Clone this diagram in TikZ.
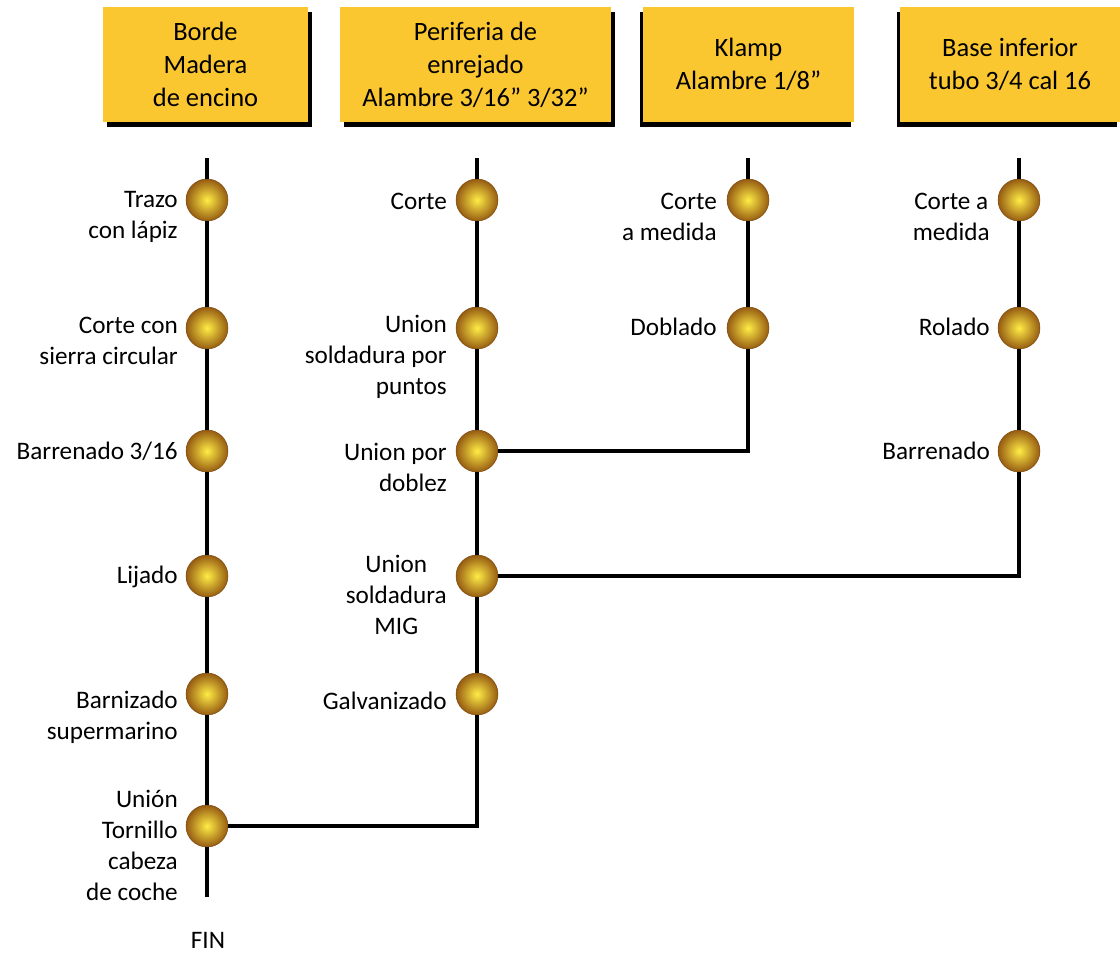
\documentclass[tikz,border=0pt]{standalone}
\usepackage{fontspec}
\setmainfont{Carlito}
\usepackage{tikz}
\usetikzlibrary{shadows}

\definecolor{boxgold}{RGB}{251,199,48}
\definecolor{ballin}{RGB}{255,236,70}
\definecolor{ballout}{RGB}{150,92,18}
\definecolor{ballrim}{RGB}{120,70,10}

\begin{document}
\begin{tikzpicture}[x=0.03cm, y=-0.03cm,
  head/.style={fill=boxgold, minimum height=3.45cm, inner sep=0pt, align=center, font=\fontsize{22.6}{28.2}\selectfont},
  shadowr/.style={drop shadow={shadow xshift=0.12cm, shadow yshift=-0.15cm, fill=black, opacity=1}},
  shadowl/.style={drop shadow={shadow xshift=-0.09cm, shadow yshift=-0.15cm, fill=black, opacity=1}},
  stepball/.style={circle, minimum size=1.26cm, inner sep=0pt, draw=ballrim, line width=0.4pt, shading=radial, inner color=ballin, outer color=ballout},
  lbl/.style={align=right, inner sep=0pt, font=\fontsize{21.5}{26.5}\selectfont},
  track/.style={line width=3.3pt}]
\useasboundingbox (0,0) rectangle (1120,954);

% headers
\node[head, shadowr, minimum width=6.15cm] (h1) at (205.5,64.5) {Borde\\Madera\\de encino};
\node[head, shadowr, minimum width=8.13cm] (h2) at (475.5,64.5) {Periferia de\\enrejado\\Alambre 3/16” 3/32”};
\node[head, shadowl, minimum width=6.33cm] (h3) at (748.5,64.5) {Klamp\\Alambre 1/8”};
\node[head, shadowl, minimum width=6.6cm] (h4) at (1010,64.5) {Base inferior\\tubo 3/4 cal 16};

% line ends
\coordinate (top1) at (207,158);
\coordinate (top2) at (477,158);
\coordinate (top3) at (748,158);
\coordinate (top4) at (1019,158);
\coordinate (end1) at (207,897);

% balls
\node[stepball] (b11) at (207,200) {};
\node[stepball] (b12) at (207,328) {};
\node[stepball] (b13) at (207,451) {};
\node[stepball] (b14) at (207,576) {};
\node[stepball] (b15) at (207,694) {};
\node[stepball] (b16) at (207,826) {};
\node[stepball] (b21) at (477,200) {};
\node[stepball] (b22) at (477,328) {};
\node[stepball] (b23) at (477,451) {};
\node[stepball] (b24) at (477,576) {};
\node[stepball] (b25) at (477,694) {};
\node[stepball] (b31) at (748,200) {};
\node[stepball] (b32) at (748,328) {};
\node[stepball] (b41) at (1019,200) {};
\node[stepball] (b42) at (1019,328) {};
\node[stepball] (b43) at (1019,451) {};

% connectors
\draw[track] (top1) -- (b11) -- (b12) -- (b13) -- (b14) -- (b15) -- (b16) -- (end1);
\draw[track] (top2) -- (b21) -- (b22) -- (b23) -- (b24) -- (b25);
\draw[track] (b25) |- (b16);
\draw[track] (top3) -- (b31) -- (b32);
\draw[track] (b32) |- (b23);
\draw[track] (top4) -- (b41) -- (b42) -- (b43);
\draw[track] (b43) |- (b24);

% labels
\node[lbl, anchor=east] (l11) at (178,217) {Trazo\\con lápiz};
\node[lbl, anchor=east] (l12) at (178,341) {Corte con\\sierra circular};
\node[lbl, anchor=east] (l13) at (178,451) {Barrenado 3/16};
\node[lbl, anchor=east] (l14) at (178,577) {Lijado};
\node[lbl, anchor=east] (l15) at (178,717) {Barnizado\\supermarino};
\node[lbl, anchor=east] (l16) at (178,845) {Unión\\Tornillo\\cabeza\\de coche};
\node[lbl, anchor=east] (l21) at (447,201) {Corte};
\node[lbl, anchor=east] (l22) at (447,357) {Union\\soldadura por\\puntos};
\node[lbl, anchor=east] (l23) at (447,467) {Union por\\doblez};
\node[lbl, anchor=east, align=center] (l24) at (447,595) {Union\\soldadura\\MIG};
\node[lbl, anchor=east] (l25) at (447,701) {Galvanizado};
\node[lbl, anchor=east] (l31) at (717,217) {Corte\\a medida};
\node[lbl, anchor=east] (l32) at (717,327) {Doblado};
\node[lbl, anchor=east, align=center] (l41) at (990,217) {Corte a\\medida};
\node[lbl, anchor=east] (l42) at (990,327) {Rolado};
\node[lbl, anchor=east] (l43) at (990,451) {Barrenado};
\node[lbl] (fin) at (208,940) {FIN};
\end{tikzpicture}
\end{document}
